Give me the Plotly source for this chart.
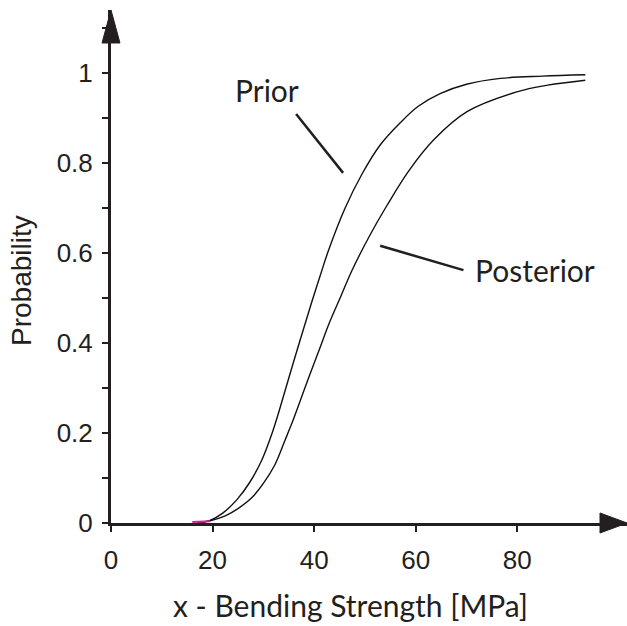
import plotly.graph_objects as go

# Bending strength [MPa] and cumulative probability for the prior and posterior
prior_x = [17, 19.5, 22, 24.8, 27.3, 29.7, 31.7, 33.0, 36.0, 39.5, 41.2, 42.8,
           46.1, 49.4, 53.0, 57.0, 60.5, 64.8, 70.0, 76.7, 85.0, 93.4]
prior_p = [0, 0.006, 0.022, 0.052, 0.09, 0.14, 0.199, 0.245, 0.36, 0.49, 0.55,
           0.605, 0.70, 0.775, 0.84, 0.89, 0.926, 0.954, 0.975, 0.988, 0.993, 0.996]

posterior_x = [17, 19.5, 22.5, 25.0, 27.7, 30.0, 32.3, 34.3, 35.9, 38.5, 41.0, 43.0,
               45.3, 47.4, 51.0, 54.3, 58.6, 63.5, 70.1, 79.9, 86.0, 93.4]
posterior_p = [0, 0.005, 0.016, 0.032, 0.056, 0.088, 0.13, 0.185, 0.23, 0.31, 0.385,
               0.445, 0.505, 0.56, 0.64, 0.705, 0.782, 0.851, 0.914, 0.958, 0.973, 0.984]

# short lower-tail segment at the start of the support
tail_x = [16, 19.5]
tail_p = [0.002, 0.004]

x_ticks = [0, 20, 40, 60, 80]
y_ticks = [0, 0.2, 0.4, 0.6, 0.8, 1]
y_tick_text = ["0", "0.2", "0.4", "0.6", "0.8", "1"]

INK = "#231f20"
TICK_FONT = dict(family="Liberation Sans, Arial, sans-serif", size=26, color=INK)
LABEL_FONT = dict(family="Lato, sans-serif", size=30, color=INK)

fig = go.Figure()
fig.add_trace(go.Scatter(x=prior_x, y=prior_p, mode="lines",
                         line=dict(color="#111111", width=1.4, shape="spline", smoothing=1),
                         name="Prior", hoverinfo="x+y"))
fig.add_trace(go.Scatter(x=posterior_x, y=posterior_p, mode="lines",
                         line=dict(color="#111111", width=1.4, shape="spline", smoothing=1),
                         name="Posterior", hoverinfo="x+y"))
fig.add_trace(go.Scatter(x=tail_x, y=tail_p, mode="lines",
                         line=dict(color="#e0209a", width=2),
                         name="tail", hoverinfo="skip"))

X_MAX = 101.6
Y_MAX = 1.14

fig.update_layout(
    width=627, height=626,
    margin=dict(l=111, r=0, t=10, b=103),
    paper_bgcolor="white", plot_bgcolor="white",
    showlegend=False,
    xaxis=dict(range=[0, X_MAX], tickvals=x_ticks, ticks="outside", ticklen=6,
               tickwidth=1.5, tickcolor=INK, showline=True, linewidth=3,
               linecolor=INK, showgrid=False, zeroline=False, tickfont=TICK_FONT,
               ticklabelstandoff=6),
    yaxis=dict(range=[0, Y_MAX], tickvals=y_ticks, ticktext=y_tick_text,
               ticks="outside", ticklen=6, tickwidth=1.5, tickcolor=INK,
               minor=dict(dtick=0.1, tick0=0, ticks="outside", ticklen=6,
                          tickwidth=1.5, tickcolor=INK, showgrid=False),
               showline=True, linewidth=3, linecolor=INK, showgrid=False,
               zeroline=False, tickfont=TICK_FONT, ticklabelstandoff=4),
)

# arrowheads at the ends of both axes (paper coordinates of the plot area)
fig.add_shape(type="path", xref="paper", yref="paper",
              path="M -0.0174,0.9357 L 0,1 L 0.0174,0.9357 Z",
              fillcolor=INK, line=dict(color=INK, width=1))
fig.add_shape(type="path", xref="paper", yref="paper",
              path="M 0.9477,-0.0195 L 1,0 L 0.9477,0.0195 Z",
              fillcolor=INK, line=dict(color=INK, width=1))

# leader lines from the labels to the curves
fig.add_shape(type="line", x0=36.45, y0=0.909, x1=45.7, y1=0.778,
              line=dict(color=INK, width=2.5))
fig.add_shape(type="line", x0=53.0, y0=0.616, x1=69.4, y1=0.562,
              line=dict(color=INK, width=2.5))

fig.add_annotation(x=30.7, y=0.962, text="Prior", showarrow=False, font=LABEL_FONT)
fig.add_annotation(x=83.5, y=0.562, text="Posterior", showarrow=False, font=LABEL_FONT)

# axis titles
fig.add_annotation(xref="paper", yref="paper", x=(350 - 111) / 516, y=-0.16,
                   xanchor="center", yanchor="middle",
                   text="x - Bending Strength [MPa]", showarrow=False, font=LABEL_FONT)
fig.add_annotation(xref="paper", yref="paper", x=(21 - 111) / 516, y=(523 - 281) / 513,
                   xanchor="center", yanchor="middle",
                   text="Probability", showarrow=False, textangle=-90,
                   font=dict(family="Liberation Sans, Arial, sans-serif", size=28, color=INK))

fig.write_html("out.html")
